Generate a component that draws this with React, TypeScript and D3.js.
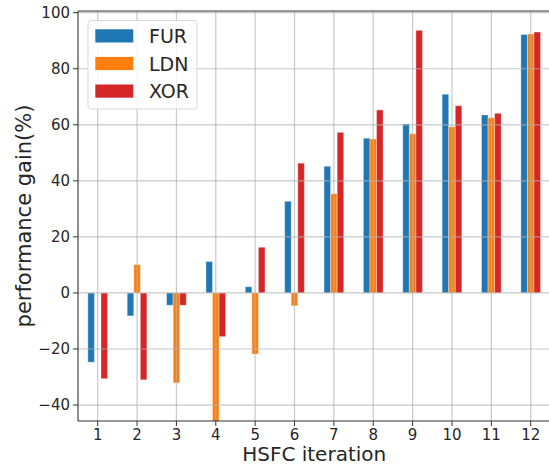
import * as d3 from 'd3';

const iterations = ['1', '2', '3', '4', '5', '6', '7', '8', '9', '10', '11', '12'];
const seriesNames = ['FUR', 'LDN', 'XOR'];
const furValues = [-24.7, -8.2, -4.4, 11.2, 2.2, 32.7, 45.2, 55.2, 60.3, 70.9, 63.5, 92.2];
const ldnValues = [0, 10.1, -32.1, -47, -21.8, -4.6, 35.4, 54.9, 56.8, 59.3, 62.5, 92.4];
const xorValues = [-30.6, -31.0, -4.4, -15.6, 16.3, 46.3, 57.3, 65.3, 93.7, 66.8, 64.1, 93.1];
const yTicks = [-40, -20, 0, 20, 40, 60, 80, 100];
const colors = ['#1f77b4', '#ff7f0e', '#d62728'];

const width = 549;
const height = 466;

function App() {
    const margin = { top: 11, left: 78, bottom: 421, right: 550.4 };
    const allSeries = [furValues, ldnValues, xorValues];

    const x = d3.scaleLinear()
        .domain([-0.5, iterations.length - 0.5])
        .range([margin.left, margin.right]);

    const y = d3.scaleLinear()
        .domain([-45.7, 100.6])
        .range([margin.bottom, margin.top]);

    // offset of each series inside a group, in data units (pandas width 0.5)
    const sub = d3.scaleBand()
        .domain(seriesNames)
        .range([-0.25, 0.25]);

    const barW = x(sub.bandwidth()) - x(0);

    const font = 'DejaVu Sans, sans-serif';

    return (
        <svg width={width} height={height} style={{ position: 'absolute', left: 0, top: 0, background: '#fff' }}>
            <defs>
                <clipPath id="plot">
                    <rect x={margin.left} y={margin.top} width={margin.right - margin.left} height={margin.bottom - margin.top} />
                </clipPath>
            </defs>

            {/* bars */}
            <g clipPath="url(#plot)">
                {allSeries.map((vals, k) =>
                    vals.map((v, i) => {
                        const x0 = x(i + sub(seriesNames[k])!);
                        const top = y(Math.max(0, v));
                        const h = Math.abs(y(v) - y(0));
                        return (
                            <rect key={`${k}-${i}`} x={x0} y={top} width={barW} height={h}
                                fill={colors[k]} stroke="#fff" strokeOpacity={0.35} strokeWidth={1} />
                        );
                    })
                )}
            </g>

            {/* grid drawn above bars */}
            <g stroke="#b0b0b0" strokeOpacity={0.7} strokeWidth={1.2}>
                {iterations.map((_, i) => (
                    <line key={'gx' + i} x1={x(i)} x2={x(i)} y1={margin.top} y2={margin.bottom} />
                ))}
                {yTicks.map(t => (
                    <line key={'gy' + t} x1={margin.left} x2={margin.right} y1={y(t)} y2={y(t)} />
                ))}
            </g>

            {/* spines */}
            <g stroke="#333" strokeWidth={1.1} fill="none">
                <line x1={margin.left} x2={margin.left} y1={margin.top} y2={margin.bottom} />
                <line x1={margin.left} x2={margin.right} y1={margin.bottom} y2={margin.bottom} />
                <line x1={margin.left} x2={margin.right} y1={margin.top} y2={margin.top} />
                <line x1={margin.right} x2={margin.right} y1={margin.top} y2={margin.bottom} />
            </g>

            {/* y ticks */}
            <g fontFamily={font} fontSize={15} fill="#262626">
                {yTicks.map(t => (
                    <g key={'yt' + t}>
                        <line x1={margin.left - 5} x2={margin.left} y1={y(t)} y2={y(t)} stroke="#333" strokeWidth={1} />
                        <text x={margin.left - 8} y={y(t)} dy="0.35em" textAnchor="end">
                            {t < 0 ? '\u2212' + Math.abs(t) : String(t)}
                        </text>
                    </g>
                ))}
            </g>

            {/* x ticks */}
            <g fontFamily={font} fontSize={15} fill="#262626">
                {iterations.map((lab, i) => (
                    <g key={'xt' + i}>
                        <line x1={x(i)} x2={x(i)} y1={margin.bottom} y2={margin.bottom + 5} stroke="#333" strokeWidth={1} />
                        <text x={x(i)} y={margin.bottom + 18.5} textAnchor="middle">{lab}</text>
                    </g>
                ))}
            </g>

            {/* axis labels */}
            <text x={(margin.left + margin.right) / 2} y={461.2} textAnchor="middle"
                fontFamily={font} fontSize={20} fill="#262626">HSFC iteration</text>
            <text transform={`translate(31,${(margin.top + margin.bottom) / 2}) rotate(-90)`} textAnchor="middle"
                fontFamily={font} fontSize={21} fill="#262626">performance gain(%)</text>

            {/* legend */}
            <g>
                <rect x={88} y={20.5} width={109} height={88.5} rx={3} fill="#fff" fillOpacity={0.8}
                    stroke="#d9d9d9" strokeWidth={1} />
                {seriesNames.map((name, k) => (
                    <g key={name} transform={`translate(0,${k * 27.6})`}>
                        <rect x={95.3} y={29.3} width={38} height={13.2} fill={colors[k]} />
                        <text x={149} y={43.3} fontFamily={font} fontSize={19} fill="#262626">{name}</text>
                    </g>
                ))}
            </g>
        </svg>
    );
}

export default App;
